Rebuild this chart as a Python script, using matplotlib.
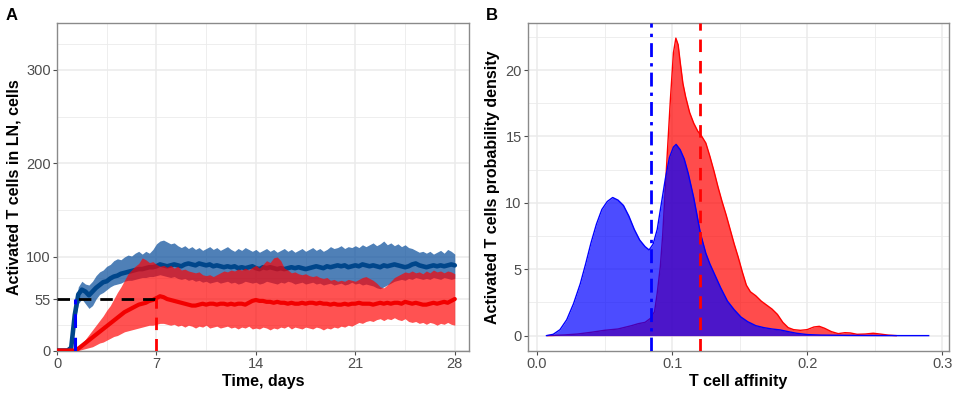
import numpy as np
import matplotlib
matplotlib.use("Agg")
import matplotlib.pyplot as plt

plt.rcParams['font.family'] = ['Liberation Sans', 'DejaVu Sans']

# ---------------- Panel A data (time in days, 0.25-day sampling) ----------------
time_days = np.arange(0, 28.001, 0.25)

blue_mean = [
    0, 0, 0, 0,  3, 38, 60, 65,  63, 59, 63, 67,  70, 73, 74, 77,
    79, 80, 82, 83,  84, 85, 86, 87,  87, 88, 89, 89,  90, 92, 91, 90,
    91, 92, 91, 90,  92, 93, 92, 91,  93, 92, 91, 92,  90, 91, 90, 89,
    90, 89, 90, 88,  89, 88, 89, 90,  88, 87, 89, 88,  89, 88, 87, 88,
    87, 88, 89, 88,  89, 88, 87, 88,  89, 90, 89, 88,  90, 89, 90, 91,
    90, 91, 89, 90,  91, 90, 92, 91,  90, 91, 90, 89,  91, 90, 91, 92,
    91, 90, 89, 90,  92, 93, 91, 90,  89, 90, 91, 90,  91, 90, 91, 92,
    91]
blue_upper = [
    0, 0, 0, 0,  5, 45, 68, 74,  71, 70, 74, 80,  84, 86, 90, 92,
    96, 98, 97, 100,  102, 101, 104, 106,  103, 106, 104, 108,  114, 117, 118, 116,
    114, 115, 112, 110,  112, 109, 111, 108,  110, 107, 109, 111,  108, 110, 107, 109,
    111, 108, 106, 109,  107, 110, 108, 106,  108, 105, 107, 109,  106, 108, 105, 107,
    109, 106, 108, 105,  107, 109, 106, 108,  110, 107, 109, 106,  108, 111, 109, 110,
    112, 109, 111, 110,  112, 110, 113, 111,  113, 115, 112, 114,  117, 113, 115, 112,
    114, 111, 113, 110,  109, 107, 105, 106,  104, 106, 103, 105,  107, 104, 108, 106,
    103]
blue_lower = [
    0, 0, 0, 0,  1, 30, 50, 55,  50, 45, 48, 55,  60, 62, 65, 68,
    70, 71, 72, 74,  75, 75, 76, 77,  78, 78, 79, 79,  80, 81, 80, 79,
    78, 79, 77, 76,  77, 75, 76, 74,  75, 73, 74, 72,  73, 74, 72, 73,
    74, 72, 73, 71,  72, 74, 73, 72,  73, 71, 72, 74,  73, 72, 71, 73,
    72, 74, 73, 71,  72, 73, 71, 72,  73, 71, 72, 70,  71, 72, 70, 71,
    72, 70, 71, 73,  71, 72, 70, 71,  70, 69, 67, 66,  68, 70, 72, 74,
    75, 76, 75, 77,  76, 78, 77, 76,  77, 76, 78, 77,  76, 78, 77, 76,
    77]
red_mean = [
    0, 0, 0, 0,  0, 0, 2, 5,  8, 11, 14, 17,  20, 23, 26, 29,
    32, 35, 38, 41,  43, 45, 47, 49,  50, 51, 53, 54,  56, 58, 57, 55,
    54, 53, 52, 51,  50, 49, 48, 48,  49, 50, 49, 50,  50, 49, 50, 50,
    49, 50, 49, 50,  50, 49, 51, 53,  54, 53, 53, 52,  52, 51, 52, 51,
    51, 50, 51, 50,  50, 51, 50, 51,  51, 50, 51, 50,  50, 49, 50, 49,
    49, 50, 49, 50,  50, 51, 50, 50,  50, 49, 50, 51,  50, 51, 50, 51,
    51, 50, 52, 51,  50, 51, 50, 49,  49, 50, 51, 50,  51, 52, 51, 53,
    55]
red_upper = [
    0, 0, 0, 0,  0, 0, 3, 7,  12, 17, 22, 27,  32, 37, 43, 48,
    55, 62, 68, 75,  82, 86, 90, 93,  99, 97, 94, 95,  92, 90, 91, 89,
    91, 88, 90, 86,  87, 85, 84, 83,  84, 81, 80, 81,  79, 81, 83, 85,
    84, 86, 85, 87,  86, 88, 86, 89,  91, 88, 92, 96,  94, 99, 100, 96,
    88, 86, 83, 84,  82, 81, 82, 80,  79, 80, 78, 77,  78, 75, 76, 74,
    75, 74, 76, 75,  74, 76, 78, 79,  77, 75, 72, 68,  67, 70, 74, 78,
    80, 82, 84, 83,  85, 83, 84, 82,  85, 83, 86, 84,  85, 83, 85, 84,
    82]
red_lower = [
    0, 0, 0, 0,  0, 0, 0, 1,  2, 3, 4, 6,  8, 9, 11, 13,
    15, 16, 18, 20,  21, 22, 23, 24,  25, 26, 27, 27,  28, 29, 29, 28,
    27, 28, 26, 27,  25, 27, 26, 24,  26, 25, 27, 24,  25, 26, 24, 25,
    26, 24, 25, 23,  25, 24, 26, 23,  24, 23, 25, 24,  22, 24, 23, 25,
    24, 26, 23, 25,  24, 23, 25, 24,  23, 25, 24, 22,  24, 23, 25, 24,
    26, 25, 27, 26,  28, 30, 29, 31,  32, 31, 33, 34,  32, 34, 33, 35,
    33, 32, 34, 31,  30, 31, 29, 30,  28, 30, 29, 27,  29, 28, 30, 28,
    27]

threshold_cells = 55
blue_time_threshold = 1.3
red_time_threshold = 7

a_xticks = [0, 7, 14, 21, 28]
a_yticks = [0, 55, 100, 200, 300]

# ---------------- Panel B data (affinity densities) ----------------
blue_aff = [0.007, 0.012, 0.017, 0.022, 0.027, 0.032, 0.036, 0.040, 0.044, 0.048,
            0.052, 0.056, 0.060, 0.064, 0.068, 0.072, 0.076, 0.080, 0.083, 0.086,
            0.089, 0.092, 0.095, 0.098, 0.101, 0.103, 0.106, 0.109, 0.112, 0.116,
            0.121, 0.125, 0.128, 0.132, 0.136, 0.141, 0.146, 0.151, 0.156, 0.162,
            0.168, 0.174, 0.180, 0.186, 0.192, 0.200, 0.210, 0.230, 0.250, 0.270, 0.290]
blue_dens = [0.0, 0.1, 0.45, 1.2, 2.4, 3.9, 5.4, 7.0, 8.4, 9.5,
             10.1, 10.4, 10.2, 9.8, 9.0, 8.0, 7.2, 6.7, 6.45, 6.9,
             8.0, 9.9, 11.8, 13.4, 14.2, 14.4, 14.0, 13.3, 12.2, 10.4,
             7.7, 6.2, 5.4, 4.5, 3.6, 2.6, 1.95, 1.4, 1.05, 0.75,
             0.6, 0.5, 0.43, 0.3, 0.18, 0.08, 0.04, 0.02, 0.01, 0.0, 0.0]

red_aff = [0.008, 0.020, 0.030, 0.040, 0.050, 0.060, 0.070, 0.075, 0.080, 0.084,
           0.087, 0.089, 0.0913, 0.093, 0.0945, 0.0965, 0.0987, 0.101, 0.1028, 0.1045,
           0.106, 0.108, 0.110, 0.113, 0.116, 0.119, 0.122, 0.125, 0.128, 0.131,
           0.134, 0.137, 0.140, 0.143, 0.146, 0.149, 0.152, 0.155, 0.158, 0.162,
           0.166, 0.170, 0.174, 0.178, 0.182, 0.186, 0.190, 0.195, 0.200, 0.205,
           0.209, 0.213, 0.218, 0.223, 0.228, 0.232, 0.237, 0.243, 0.249, 0.254,
           0.260, 0.266]
red_dens = [0.0, 0.05, 0.12, 0.25, 0.4, 0.5, 0.75, 0.9, 1.0, 1.3,
            1.8, 3.2, 5.2, 7.5, 10.2, 13.8, 17.7, 21.3, 22.4, 21.9,
            20.6, 19.0, 18.0, 16.8, 16.0, 15.4, 15.0, 14.5, 13.5, 12.4,
            11.2, 10.1, 9.1, 8.0, 6.9, 5.9, 4.8, 3.8, 3.3, 3.0,
            2.6, 2.3, 2.0, 1.6, 1.0, 0.6, 0.45, 0.4, 0.45, 0.65,
            0.7, 0.55, 0.3, 0.15, 0.22, 0.2, 0.1, 0.12, 0.18, 0.12,
            0.04, 0.0]

blue_aff_threshold = 0.0845
red_aff_threshold = 0.1205

b_xticks = [0.0, 0.1, 0.2, 0.3]
b_xticklabels = ["0.0", "0.1", "0.2", "0.3"]
b_yticks = [0, 5, 10, 15, 20]

# ---------------- Figure ----------------
W, H = 957, 396
fig = plt.figure(figsize=(W / 100, H / 100), dpi=100)

def ax_rect(l, r, t, b):
    return [l / W, 1 - b / H, (r - l) / W, (b - t) / H]

axA = fig.add_axes(ax_rect(57, 469, 23, 350.5))
axB = fig.add_axes(ax_rect(528, 948.5, 23, 350.5))

grid_col = '#EBEBEB'
for ax in (axA, axB):
    ax.set_facecolor('white')
    for s in ax.spines.values():
        s.set_color('#8A8A8A')
        s.set_linewidth(1.0)
    ax.tick_params(axis='both', which='major', length=3, width=0.8, color='#4D4D4D',
                   labelcolor='#4D4D4D', labelsize=10.5, pad=1.5)
    ax.tick_params(axis='both', which='minor', length=0)
    ax.set_axisbelow(True)

# Panel A
axA.set_xlim(0, 29)
axA.set_ylim(0, 350)
axA.set_xticks(a_xticks)
axA.set_yticks(a_yticks)
axA.set_xticks([3.5, 10.5, 17.5, 24.5], minor=True)
axA.set_yticks([27.5, 77.5, 150, 250, 327.5], minor=True)
axA.grid(True, which='major', color=grid_col, lw=1.1)
axA.grid(True, which='minor', color=grid_col, lw=0.6)

axA.fill_between(time_days, blue_lower, blue_upper, color='#0B4F9C', alpha=0.72, lw=0, zorder=2)
axA.plot(time_days, blue_mean, color='#00468B', lw=3.3, zorder=3, solid_capstyle='round')
axA.fill_between(time_days, red_lower, red_upper, color='#FF0000', alpha=0.68, lw=0, zorder=4)
axA.plot(time_days, red_mean, color='#F20000', lw=3.0, zorder=5, solid_capstyle='round')

axA.plot([0, red_time_threshold], [threshold_cells, threshold_cells], color='black', lw=2.0,
         ls=(0, (4.5, 3.2)), zorder=6)
axA.plot([red_time_threshold, red_time_threshold], [0, threshold_cells], color='#FF0000', lw=2.0,
         ls=(0, (4.5, 3.2)), zorder=6)
axA.plot([blue_time_threshold, blue_time_threshold], [0, threshold_cells], color='#0000FF', lw=2.2,
         ls=(0, (4.5, 3.2)), zorder=6)

axA.set_xlabel('Time, days', fontsize=11.5, fontweight='bold', labelpad=2)
axA.set_ylabel('Activated T cells in LN, cells', fontsize=11.5, fontweight='bold', labelpad=3)

# Panel B
axB.set_xlim(-0.0067, 0.3047)
axB.set_ylim(-1.12, 23.54)
axB.set_xticks(b_xticks)
axB.set_xticklabels(b_xticklabels)
axB.set_yticks(b_yticks)
axB.set_xticks([0.05, 0.15, 0.25], minor=True)
axB.set_yticks([2.5, 7.5, 12.5, 17.5, 22.5], minor=True)
axB.grid(True, which='major', color=grid_col, lw=1.1)
axB.grid(True, which='minor', color=grid_col, lw=0.6)

axB.fill_between(red_aff, 0, red_dens, color='#FF0000', alpha=0.7, lw=0, zorder=2)
axB.plot(red_aff, red_dens, color='#FF0000', lw=1.0, zorder=3)
axB.fill_between(blue_aff, 0, blue_dens, color='#0000FF', alpha=0.7, lw=0, zorder=4)
axB.plot(blue_aff, blue_dens, color='#0000FF', lw=1.0, zorder=5)

axB.axvline(blue_aff_threshold, color='#0000FF', lw=2.0, ls=(0, (5, 2.2, 1.2, 2.2)), zorder=6)
axB.axvline(red_aff_threshold, color='#FF0000', lw=2.0, ls=(0, (4.5, 3.2)), zorder=6)

axB.set_xlabel('T cell affinity', fontsize=11.5, fontweight='bold', labelpad=2)
axB.set_ylabel('Activated T cells probability density', fontsize=11.5, fontweight='bold', labelpad=4)

fig.text(6 / W, 1 - 8 / H, 'A', fontsize=12, fontweight='bold', va='top', ha='left')
fig.text(486 / W, 1 - 8 / H, 'B', fontsize=12, fontweight='bold', va='top', ha='left')

fig.savefig('out.png', dpi=100)
